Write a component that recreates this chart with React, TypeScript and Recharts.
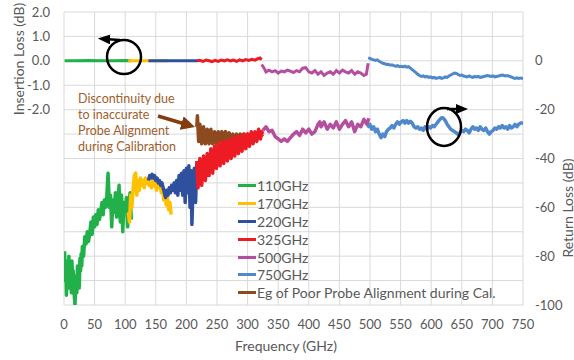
import React from "react";
import { LineChart, Line, XAxis, YAxis, CartesianGrid, Legend } from "recharts";

type Pt = [number, number];

const freqTicks = [0, 50, 100, 150, 200, 250, 300, 350, 400, 450, 500, 550, 600, 650, 700, 750];
const ilTicks = [2, 1, 0, -1, -2, -3, -4, -5, -6, -7, -8, -9, -10];
const rlTicks = [0, -20, -40, -60, -80, -100];

const bandNames = ["110GHz", "170GHz", "220GHz", "325GHz", "500GHz", "750GHz", "Eg of Poor Probe Alignment during Cal."];
const bandColors = ["#22b04b", "#ffc000", "#2f4f9f", "#ed1c24", "#b44f9f", "#5089cb", "#8c4a1e"];

// insertion loss (dB), [freq GHz, value]
const il110: Pt[] = [[1, 0], [20, 0], [40, 0.01], [60, 0], [80, 0], [100, 0.01], [110, 0]];
const il170: Pt[] = [[105, 0], [140, 0], [170, 0]];
const il220: Pt[] = [[138, 0], [180, 0], [218, 0]];
const il325: Pt[] = [
  [217, 0], [222, 0.02], [227, -0.02], [232, 0.03], [237, 0], [242, -0.03], [247, 0.02], [252, -0.02],
  [257, 0.03], [262, 0], [267, 0.04], [272, 0], [277, 0.03], [282, -0.02], [287, 0.04], [292, 0],
  [297, 0.05], [302, 0.02], [307, 0.06], [312, 0.03], [316, 0.08], [320, 0.12], [323, 0.05],
];
const il500: Pt[] = [
  [323, -0.15], [327, -0.3], [330, -0.45], [335, -0.38], [340, -0.45], [345, -0.4], [350, -0.5], [355, -0.42],
  [360, -0.45], [365, -0.38], [370, -0.42], [375, -0.48], [380, -0.4], [385, -0.45], [390, -0.3], [395, -0.28],
  [400, -0.45], [405, -0.5], [410, -0.4], [415, -0.55], [420, -0.45], [425, -0.6], [430, -0.5], [435, -0.45],
  [440, -0.55], [445, -0.4], [450, -0.5], [455, -0.38], [460, -0.45], [465, -0.5], [470, -0.4], [475, -0.55],
  [480, -0.45], [485, -0.5], [490, -0.6], [494, -0.55], [497, -0.1],
];
const il750: Pt[] = [
  [497, 0.12], [500, 0.1], [503, 0.06], [506, 0.04], [509, 0.02], [512, 0.04], [515, -0.02], [518, -0.06],
  [521, -0.1], [524, -0.12], [527, -0.15], [530, -0.14], [533, -0.18], [536, -0.16], [539, -0.2], [542, -0.22],
  [545, -0.2], [548, -0.24], [551, -0.22], [554, -0.25], [557, -0.22], [560, -0.26], [563, -0.24], [566, -0.3],
  [569, -0.36], [572, -0.42], [575, -0.48], [578, -0.55], [581, -0.6], [584, -0.64], [587, -0.62], [590, -0.66],
  [593, -0.64], [596, -0.68], [599, -0.66], [602, -0.7], [605, -0.68], [608, -0.72], [611, -0.7], [614, -0.68],
  [617, -0.72], [620, -0.7], [623, -0.66], [626, -0.68], [629, -0.62], [632, -0.58], [635, -0.54], [638, -0.5],
  [641, -0.52], [644, -0.56], [647, -0.6], [650, -0.58], [653, -0.62], [656, -0.64], [659, -0.66], [662, -0.62],
  [665, -0.66], [668, -0.68], [671, -0.64], [674, -0.66], [677, -0.64], [680, -0.68], [683, -0.66], [686, -0.64],
  [689, -0.62], [692, -0.6], [695, -0.62], [698, -0.64], [701, -0.62], [704, -0.66], [707, -0.64], [710, -0.62],
  [713, -0.6], [716, -0.58], [719, -0.6], [722, -0.62], [725, -0.6], [728, -0.64], [731, -0.66], [734, -0.7],
  [737, -0.72], [740, -0.7], [743, -0.72], [746, -0.7], [750, -0.72],
];

// return loss (dB), [freq GHz, value]
const rl110: Pt[] = [
  [1, -78], [2, -90], [3, -85], [4, -96], [5, -82], [6, -88], [7, -93], [8, -80], [9, -86], [10, -91],
  [11, -84], [12, -95], [13, -82], [14, -89], [15, -86], [16, -93], [17, -97], [18, -100], [19, -92], [20, -88],
  [21, -95], [22, -84], [23, -90], [24, -86], [25, -93], [26, -81], [27, -86], [28, -79], [29, -84], [30, -76],
  [32, -80], [34, -72], [36, -75], [38, -70], [40, -74], [42, -71], [44, -66], [46, -71], [48, -64], [50, -68],
  [52, -63], [54, -67], [56, -61], [58, -65], [60, -62], [62, -58], [64, -63], [66, -57], [68, -60], [70, -55],
  [72, -46], [73, -52], [74, -60], [76, -55], [78, -68], [80, -57], [82, -62], [84, -54], [86, -64], [88, -57],
  [90, -51], [92, -66], [94, -55], [96, -70], [98, -58], [100, -62], [102, -56], [104, -68], [106, -59], [108, -54],
  [110, -65],
];
const rl170: Pt[] = [
  [105, -62], [107, -66], [109, -55], [111, -60], [113, -52], [115, -47], [117, -46], [119, -55], [121, -49],
  [123, -53], [125, -48], [127, -51], [129, -49], [131, -52], [133, -48], [135, -50], [137, -49], [139, -51],
  [141, -50], [143, -52], [145, -49], [147, -51], [149, -50], [151, -53], [153, -49], [155, -52], [157, -51],
  [159, -54], [161, -52], [163, -57], [165, -53], [167, -59], [169, -56], [171, -61], [173, -58], [175, -63],
];
const rl220: Pt[] = [
  [138, -49], [140, -47], [142, -48], [144, -46.5], [146, -48], [148, -47], [150, -49], [152, -48], [154, -50],
  [156, -49], [158, -51], [160, -50], [162, -52], [164, -54], [166, -56], [168, -53], [170, -55], [172, -52],
  [174, -54], [176, -51], [178, -53], [180, -50], [182, -54], [184, -49], [186, -55], [188, -47], [190, -53],
  [192, -46], [194, -55], [196, -45], [198, -58], [200, -44], [202, -54], [204, -43], [206, -60], [208, -45],
  [209, -67], [211, -50], [213, -44], [215, -58], [217, -42],
];
const rl325: Pt[] = [
  [217, -41], [219, -52], [222, -40], [225, -51], [228, -39], [231, -49], [234, -38], [237, -47], [240, -36],
  [243, -46], [246, -35], [249, -44], [252, -34], [255, -43], [258, -33], [261, -42], [264, -33], [267, -41],
  [270, -32], [273, -40], [276, -32], [279, -39], [282, -31], [285, -38], [288, -31], [291, -37], [294, -30],
  [297, -36], [300, -30], [303, -35], [306, -29], [309, -34], [312, -29], [315, -33], [318, -28], [321, -32],
  [323, -29], [325, -30],
];
const rlEg: Pt[] = [
  [217, -27], [218, -22.5], [220, -33], [222, -26], [225, -34], [228, -27], [231, -34], [234, -28], [237, -34],
  [240, -28], [243, -34], [246, -29], [249, -34], [252, -29], [255, -33], [258, -29], [261, -33], [264, -29],
  [267, -33], [270, -29.5], [273, -33], [276, -30], [279, -33], [282, -30], [285, -32.5], [288, -30], [291, -32.5],
  [294, -30], [297, -32], [300, -30], [303, -32], [306, -30], [309, -31.5], [312, -30], [315, -31], [318, -30],
  [321, -31], [325, -30],
];
const rl500: Pt[] = [
  [325, -28.5], [330, -27], [335, -29], [340, -28.5], [345, -31], [350, -32], [355, -33], [360, -32], [365, -33],
  [370, -31.5], [375, -30], [380, -29], [385, -30.5], [390, -28], [395, -29.5], [400, -28], [405, -30], [410, -29],
  [415, -26], [418, -25], [420, -27], [425, -25], [430, -28], [435, -26], [440, -27.5], [445, -25], [450, -28],
  [455, -26], [460, -24.5], [465, -27], [470, -25], [475, -29], [480, -26], [485, -27], [490, -24], [495, -26],
  [498, -23.5],
];
const rl750: Pt[] = [
  [497, -27.5], [500, -26], [503, -28], [506, -27], [509, -29], [512, -28], [515, -30], [518, -31.5], [521, -30],
  [524, -31], [527, -29], [530, -28], [533, -27.5], [536, -26.5], [539, -27.5], [542, -26], [545, -25], [548, -26],
  [551, -25], [554, -24.5], [557, -25.5], [560, -24.5], [563, -25.5], [566, -24.8], [569, -25.5], [572, -27],
  [575, -27.5], [578, -27], [581, -28], [584, -27.5], [587, -28.5], [590, -27], [593, -28], [596, -27], [599, -27.5],
  [602, -26.5], [605, -27], [608, -26], [611, -25], [614, -24], [617, -23.3], [620, -23.5], [623, -24.5], [626, -26],
  [629, -27], [632, -28], [635, -28.5], [638, -29], [641, -29.5], [644, -30.2], [647, -29.5], [650, -28.5],
  [653, -29], [656, -28], [659, -28.5], [662, -29.5], [665, -28], [668, -27], [671, -28], [674, -27.5], [677, -28.5],
  [680, -27], [683, -28], [686, -28.5], [689, -27.5], [692, -29], [695, -30], [698, -29], [701, -28.5], [704, -27.5],
  [707, -28], [710, -27], [713, -27.5], [716, -26.5], [719, -27.5], [722, -27], [725, -28], [728, -26.5],
  [731, -27.5], [734, -27], [737, -26], [740, -27], [743, -26], [746, -25.5], [750, -25.5],
];

const toPts = (arr: Pt[]) => arr.map(([f, v]) => ({ f, v }));

const ilLines = [il110, il170, il220, il325, il500, il750];
// brown drawn before red so red sits on top
const rlLines: [Pt[], number][] = [[rl110, 0], [rl170, 1], [rl220, 2], [rlEg, 6], [rl325, 3], [rl500, 4], [rl750, 5]];

const gray = "#595959";
const font = "Lato, 'Open Sans', sans-serif";

function LegendBox() {
  return (
    <div style={{ fontFamily: font, fontSize: 14, color: gray }}>
      {bandNames.map((n, i) => (
        <div key={n} style={{ display: "flex", alignItems: "center", height: 17.8, whiteSpace: "nowrap" }}>
          <span style={{ display: "inline-block", width: 18, height: 3, background: bandColors[i], marginRight: 1 }} />
          <span>{n}</span>
        </div>
      ))}
    </div>
  );
}

export default function App() {
  return (
    <div style={{ position: "absolute", left: 0, top: 0, width: 574, height: 360, background: "#fff", fontFamily: font }}>
      <LineChart width={574} height={360} margin={{ top: 12, right: 0, left: 0, bottom: 0 }}>
        <CartesianGrid yAxisId="il" stroke="#d9d9d9" />
        <XAxis
          type="number"
          dataKey="f"
          domain={[0, 750]}
          ticks={freqTicks}
          interval={0}
          allowDataOverflow
          height={55}
          tickLine={false}
          axisLine={false}
          tickSize={0}
          tickMargin={15}
          tick={{ fill: gray, fontSize: 13 }}
        />
        <YAxis
          yAxisId="il"
          domain={[-10, 2]}
          ticks={ilTicks}
          interval={0}
          allowDataOverflow
          width={64}
          tickLine={false}
          axisLine={false}
          tickSize={0}
          tickMargin={14}
          tick={{ fill: gray, fontSize: 13 }}
          tickFormatter={(v: number) => (v >= -2 ? v.toFixed(1) : "")}
        />
        <YAxis
          yAxisId="rl"
          orientation="right"
          domain={[-100, 20]}
          ticks={rlTicks}
          interval={0}
          allowDataOverflow
          width={51}
          tickLine={false}
          axisLine={false}
          tickSize={0}
          tickMargin={12}
          tick={{ fill: gray, fontSize: 13 }}
        />
        {ilLines.map((s, i) => (
          <Line
            key={"il" + i}
            yAxisId="il"
            data={toPts(s)}
            dataKey="v"
            stroke={bandColors[i]}
            strokeWidth={3}
            dot={false}
            activeDot={false}
            legendType="none"
            isAnimationActive={false}
          />
        ))}
        {rlLines.map(([s, c], i) => (
          <Line
            key={"rl" + i}
            yAxisId="rl"
            data={toPts(s)}
            dataKey="v"
            stroke={bandColors[c]}
            strokeWidth={3.5}
            strokeLinejoin="round"
            dot={false}
            activeDot={false}
            isAnimationActive={false}
          />
        ))}
        <Legend
          layout="vertical"
          verticalAlign="middle"
          align="center"
          wrapperStyle={{ left: 238, top: 177, width: 300 }}
          content={() => <LegendBox />}
        />
      </LineChart>
      <svg width={574} height={360} style={{ position: "absolute", left: 0, top: 0, pointerEvents: "none" }}>
        <defs>
          <marker id="brownHead" markerWidth="4" markerHeight="4" refX="2.2" refY="2" orient="auto" markerUnits="strokeWidth">
            <path d="M0,0 L4,2 L0,4 z" fill="#843c0c" />
          </marker>
          <marker id="blackHead" markerWidth="5" markerHeight="4" refX="2.5" refY="2" orient="auto" markerUnits="strokeWidth">
            <path d="M0,0 L5,2 L0,4 z" fill="#000" />
          </marker>
        </defs>
        <text x={18} y={59} transform="rotate(-90 18 59)" textAnchor="middle" dominantBaseline="central" fill={gray} fontSize={14}>
          Insertion Loss (dB)
        </text>
        <text x={567} y={208} transform="rotate(-90 567 208)" textAnchor="middle" dominantBaseline="central" fill={gray} fontSize={14}>
          Return Loss (dB)
        </text>
        <text x={286} y={345} textAnchor="middle" dominantBaseline="central" fill={gray} fontSize={14}>
          Frequency (GHz)
        </text>
        <g fill="#a0602c" fontSize={12.5}>
          <text x={78} y={98} dominantBaseline="central">Discontinuity due</text>
          <text x={78} y={114} dominantBaseline="central">to inaccurate</text>
          <text x={78} y={130} dominantBaseline="central">Probe Alignment</text>
          <text x={78} y={146} dominantBaseline="central">during Calibration</text>
        </g>
        <line x1={158} y1={116} x2={189} y2={125.2} stroke="#843c0c" strokeWidth={3.5} markerEnd="url(#brownHead)" />
        <ellipse cx={124} cy={57} rx={17} ry={17} fill="none" stroke="#000" strokeWidth={2.5} />
        <line x1={120} y1={40} x2={104} y2={39} stroke="#000" strokeWidth={2.5} markerEnd="url(#blackHead)" />
        <ellipse cx={444} cy={127} rx={17} ry={19} fill="none" stroke="#000" strokeWidth={2.5} />
        <line x1={447} y1={109} x2={462} y2={109} stroke="#000" strokeWidth={2.5} markerEnd="url(#blackHead)" />
      </svg>
    </div>
  );
}
